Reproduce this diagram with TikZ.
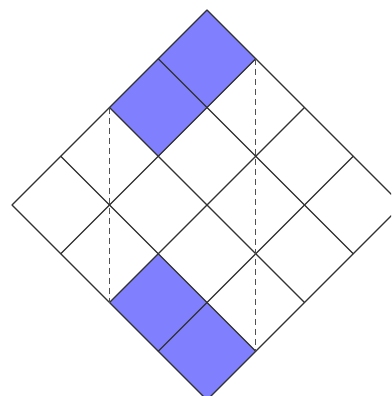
\documentclass[tikz,border=0pt]{standalone}
\usetikzlibrary{calc}
\definecolor{cellblue}{RGB}{128,128,255}
\definecolor{gridline}{RGB}{50,50,50}
\tikzset{
  gridstyle/.style={draw=gridline,line width=1.1pt,line cap=round},
  dashstyle/.style={draw=gridline!85,line width=1.1pt,dash pattern=on 6pt off 4pt},
  cellfill/.style={fill=cellblue}
}
\begin{document}
\begin{tikzpicture}
\useasboundingbox (0pt,-396pt) rectangle (391pt,0pt);
\clip (0pt,-396pt) rectangle (391pt,0pt);
\begin{scope}[shift={(207pt,-10pt)}, x={(-48.75pt,-48.75pt)}, y={(48.75pt,-48.75pt)}]
  % blue cells
  \fill[cellfill] (0,0) -- (2,0) -- (2,1) -- (0,1) -- cycle;
  \fill[cellfill] (3,2) -- (4,2) -- (4,4) -- (3,4) -- cycle;
  % grid
  \foreach \k in {0,...,4} {
    \draw[gridstyle] (\k,0) -- (\k,4);
    \draw[gridstyle] (0,\k) -- (4,\k);
  }
  % dashed verticals
  \coordinate (d1a) at (2,0);
  \coordinate (d1b) at (4,2);
  \coordinate (d2a) at (0,1);
  \coordinate (d2b) at (3,4);
  \draw[dashstyle] (d1a) -- (d1b);
  \draw[dashstyle] (d2a) -- (d2b);
\end{scope}
\end{tikzpicture}
\end{document}
